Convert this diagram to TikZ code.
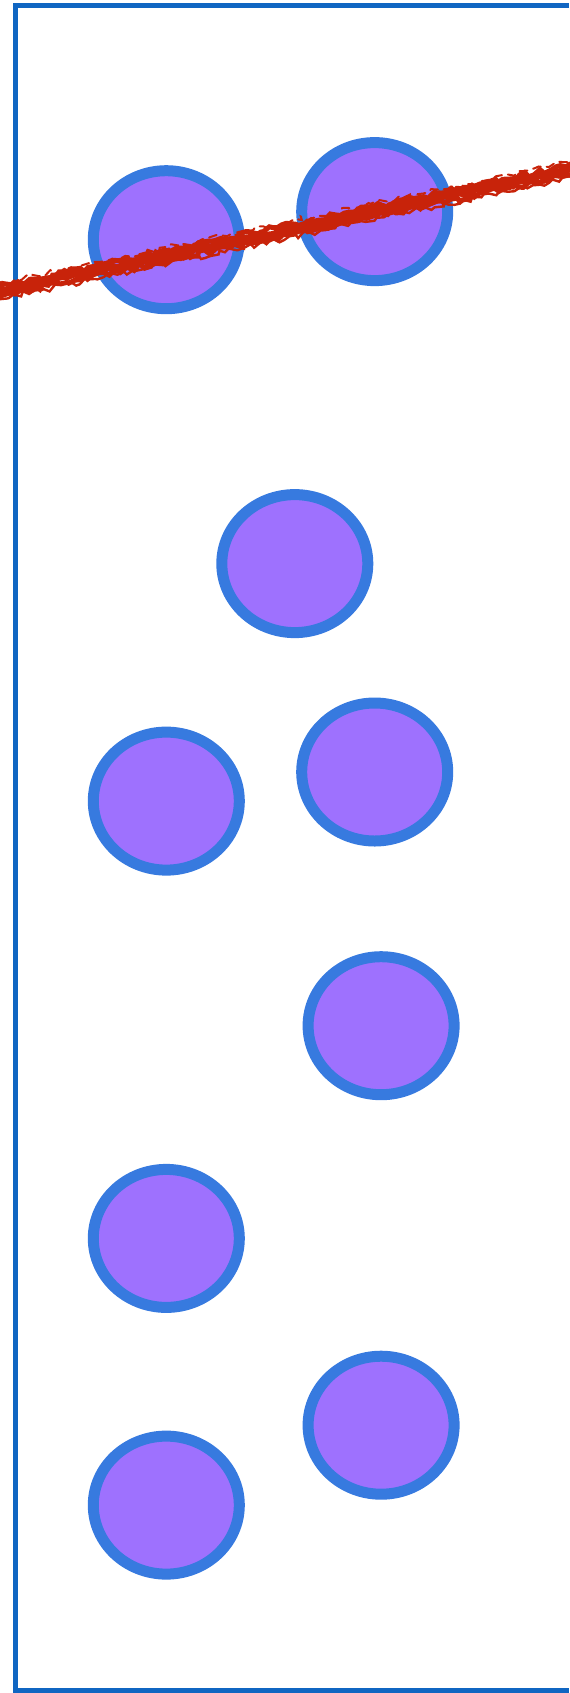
\documentclass[tikz,border=0pt]{standalone}
\usepackage{tikz}
\usetikzlibrary{shapes.geometric,decorations.pathmorphing}

\definecolor{frameblue}{HTML}{1066C2}
\definecolor{ringblue}{HTML}{377ADF}
\definecolor{blobfill}{HTML}{9E71FE}
\definecolor{scribred}{HTML}{C8230A}

\tikzset{
  blob/.style={ellipse, draw=ringblue, fill=blobfill, line width=5.5pt,
    minimum width=146pt*0.5, minimum height=138pt*0.5, inner sep=0pt},
  scrib/.style={scribred, line cap=round,
    decorate, decoration={random steps, segment length=2.5pt, amplitude=1.4pt}}
}

\begin{document}
\begin{tikzpicture}[x=0.5pt, y=-0.5pt]
    \useasboundingbox (0,0) rectangle (569,1693);

    % Frame
    \draw[frameblue, line width=2.5pt] (569,5.5) -- (15.5,5.5) -- (15.5,1690.5) -- (569,1690.5);

    % Blobs
    \node[blob] (c1) at (166.3,239.7) {};
    \node[blob] (c2) at (374.7,211.6) {};
    \node[blob] (c3) at (294.8,563.6) {};
    \node[blob] (c4) at (166.3,801.1) {};
    \node[blob] (c5) at (374.7,772) {};
    \node[blob] (c6) at (381.1,1025.7) {};
    \node[blob] (c7) at (166.3,1238.4) {};
    \node[blob] (c8) at (381.1,1425.2) {};
    \node[blob] (c9) at (166.3,1505.1) {};

    % Scribble
    \coordinate (sl) at (-4,292);
    \coordinate (sr) at (573,169);
    \pgfmathsetseed{7}
    \draw[scrib, line width=4.5pt] (sl) -- (sr);
    \draw[scrib, line width=2.5pt] ([yshift=-2.5pt]sl) -- ([yshift=-2.5pt]sr);
    \draw[scrib, line width=2.5pt] ([yshift=2.2pt]sl) -- ([yshift=2.2pt]sr);
    \draw[scrib, line width=1.2pt] ([yshift=-4pt]sl) -- ([yshift=-4pt]sr);
    \draw[scrib, line width=1pt, dash pattern=on 4pt off 3pt] ([yshift=3.8pt]sl) -- ([yshift=3.8pt]sr);
\end{tikzpicture}
\end{document}
